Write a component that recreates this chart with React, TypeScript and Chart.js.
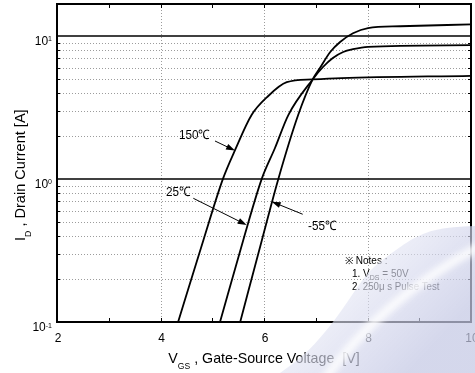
import { useEffect, useRef } from "react";
import { Chart, registerables } from "chart.js";

Chart.register(...registerables);

// Transfer characteristics: drain current vs gate-source voltage
const vgs150 = [4.34, 4.83, 5.21, 5.44, 5.76, 6.06, 6.44, 6.94, 7.5, 10.0];
const id150 = [0.1, 0.375, 1.01, 1.59, 2.8, 3.74, 4.75, 4.97, 5.08, 5.27];

const vgs25 = [5.15, 5.6, 5.96, 6.21, 6.47, 6.94, 7.14, 7.33, 7.53, 7.72, 8.01, 10.0];
const id25 = [0.1, 0.375, 1.01, 1.64, 2.8, 4.97, 6.07, 7.02, 7.73, 8.08, 8.39, 8.62];

const vgsM55 = [5.54, 5.96, 6.28, 6.66, 6.94, 7.08, 7.28, 7.47, 7.72, 8.01, 8.63, 10.0];
const idM55 = [0.1, 0.375, 1.01, 2.8, 4.97, 5.97, 7.73, 9.08, 10.45, 11.37, 11.7, 12.05];

// Axis ranges and ticks
const X_MIN = 2;
const X_MAX = 10;
const Y_MIN = 0.1;
const Y_MAX = 16.74;
const xTickLabels = [2, 4, 6, 8, 10];
const xGridValues = [4, 6, 8];
const xTickMarks = [3, 4, 5, 6, 7, 8, 9];
const yDecades = [0.1, 1, 10];
const yExponents = ["-1", "0", "1"];
const yMajorLines = [1, 10];
const yMinorMultipliers = [2, 3, 4, 5, 6, 7, 8, 9];

// Curve callouts, in data units (V, A)
const callouts = [
  { text: "150℃", label: [4.357, 1.89], from: [5.053, 1.844], to: [5.44, 1.58] },
  { text: "25℃", label: [4.106, 0.76], from: [4.634, 0.733], to: [5.666, 0.477] },
  { text: "-55℃", label: [6.85, 0.44], from: [6.748, 0.567], to: [6.149, 0.694] },
];

const FONT = '"Liberation Sans", Arial, Helvetica, sans-serif';

type Piece = { t: string; size: number; dy: number };

function runWidth(ctx: CanvasRenderingContext2D, pieces: Piece[], sx: number) {
  let w = 0;
  for (const p of pieces) {
    ctx.font = `${p.size}px ${FONT}`;
    w += ctx.measureText(p.t).width * sx;
  }
  return w;
}

function drawRun(ctx: CanvasRenderingContext2D, pieces: Piece[], x: number, y: number, sx: number) {
  ctx.save();
  ctx.translate(x, y);
  ctx.scale(sx, 1);
  ctx.textAlign = "left";
  ctx.textBaseline = "alphabetic";
  let cx = 0;
  for (const p of pieces) {
    ctx.font = `${p.size}px ${FONT}`;
    ctx.fillText(p.t, cx, p.dy);
    cx += ctx.measureText(p.t).width;
  }
  ctx.restore();
}

function toPoints(xs: number[], ys: number[]) {
  return xs.map((x, i) => ({ x, y: ys[i] }));
}

const framePlugin = {
  id: "frame",
  beforeDatasetsDraw(chart: any) {
    const { ctx, chartArea: a, scales } = chart;
    const xs = scales.x;
    const ys = scales.y;
    ctx.save();
    // dotted minor grid
    ctx.strokeStyle = "#9c9c9c";
    ctx.lineWidth = 1;
    ctx.setLineDash([1, 2]);
    for (const d of yDecades) {
      for (const m of yMinorMultipliers) {
        const v = d * m;
        if (v >= Y_MAX) continue;
        const py = Math.round(ys.getPixelForValue(v)) + 0.5;
        ctx.beginPath();
        ctx.moveTo(a.left, py);
        ctx.lineTo(a.right, py);
        ctx.stroke();
      }
    }
    for (const v of xGridValues) {
      const px = Math.round(xs.getPixelForValue(v)) + 0.5;
      ctx.beginPath();
      ctx.moveTo(px, a.top);
      ctx.lineTo(px, a.bottom);
      ctx.stroke();
    }
    ctx.setLineDash([]);
    // solid decade lines
    ctx.strokeStyle = "#000";
    ctx.lineWidth = 1.3;
    for (const v of yMajorLines) {
      const py = ys.getPixelForValue(v);
      ctx.beginPath();
      ctx.moveTo(a.left, py);
      ctx.lineTo(a.right, py);
      ctx.stroke();
    }
    ctx.restore();
  },
  afterDatasetsDraw(chart: any) {
    const { ctx, chartArea: a, scales } = chart;
    const xs = scales.x;
    const ys = scales.y;
    ctx.save();
    ctx.fillStyle = "#000";
    ctx.strokeStyle = "#000";

    // inward tick marks
    ctx.lineWidth = 1;
    for (const v of xTickMarks) {
      const px = Math.round(xs.getPixelForValue(v)) + 0.5;
      ctx.beginPath();
      ctx.moveTo(px, a.bottom);
      ctx.lineTo(px, a.bottom - 4);
      ctx.moveTo(px, a.top);
      ctx.lineTo(px, a.top + 4);
      ctx.stroke();
    }
    for (const d of yDecades) {
      for (const m of yMinorMultipliers) {
        const v = d * m;
        if (v >= Y_MAX) continue;
        const py = Math.round(ys.getPixelForValue(v)) + 0.5;
        ctx.beginPath();
        ctx.moveTo(a.left, py);
        ctx.lineTo(a.left + 3, py);
        ctx.moveTo(a.right, py);
        ctx.lineTo(a.right - 3, py);
        ctx.stroke();
      }
    }

    // plot frame
    ctx.lineWidth = 2;
    ctx.strokeRect(a.left, a.top, a.right - a.left, a.bottom - a.top);

    // x tick labels
    for (const v of xTickLabels) {
      const px = xs.getPixelForValue(v) + 1;
      const pieces = [{ t: String(v), size: 13, dy: 0 }];
      const w = runWidth(ctx, pieces, 0.92);
      drawRun(ctx, pieces, px - w / 2, a.bottom + 20, 0.92);
    }

    // y tick labels: 10 with superscript exponent
    yDecades.forEach((v, i) => {
      const py = ys.getPixelForValue(v);
      const pieces = [
        { t: "10", size: 12, dy: 0 },
        { t: yExponents[i], size: 7, dy: -3.5 },
      ];
      const w = runWidth(ctx, pieces, 1);
      drawRun(ctx, pieces, a.left - 5 - w, py + 9, 1);
    });

    // axis titles
    const xTitle: Piece[] = [
      { t: "V", size: 15, dy: 0 },
      { t: "GS", size: 9, dy: 5.5 },
      { t: " , Gate-Source Voltage  [V]", size: 15, dy: 0 },
    ];
    const xw = runWidth(ctx, xTitle, 0.95);
    drawRun(ctx, xTitle, (a.left + a.right) / 2 - xw / 2, 363, 0.95);

    const yTitle: Piece[] = [
      { t: "I", size: 15, dy: 0 },
      { t: "D", size: 9, dy: 6 },
      { t: " , Drain Current [A]", size: 15, dy: 0 },
    ];
    ctx.save();
    ctx.translate(25, 241);
    ctx.rotate(-Math.PI / 2);
    drawRun(ctx, yTitle, 0, 0, 0.97);
    ctx.restore();

    // curve callouts with arrows
    for (const c of callouts) {
      const lx = xs.getPixelForValue(c.label[0]);
      const ly = ys.getPixelForValue(c.label[1]);
      drawRun(ctx, [{ t: c.text, size: 13, dy: 0 }], lx, ly, 0.9);
      const fx = xs.getPixelForValue(c.from[0]);
      const fy = ys.getPixelForValue(c.from[1]);
      const tx = xs.getPixelForValue(c.to[0]);
      const ty = ys.getPixelForValue(c.to[1]);
      const ang = Math.atan2(ty - fy, tx - fx);
      const head = 9;
      const half = 3;
      ctx.lineWidth = 1;
      ctx.beginPath();
      ctx.moveTo(fx, fy);
      ctx.lineTo(tx - Math.cos(ang) * head * 0.8, ty - Math.sin(ang) * head * 0.8);
      ctx.stroke();
      ctx.beginPath();
      ctx.moveTo(tx, ty);
      ctx.lineTo(
        tx - Math.cos(ang) * head - Math.sin(ang) * half,
        ty - Math.sin(ang) * head + Math.cos(ang) * half
      );
      ctx.lineTo(
        tx - Math.cos(ang) * head + Math.sin(ang) * half,
        ty - Math.sin(ang) * head - Math.cos(ang) * half
      );
      ctx.closePath();
      ctx.fill();
    }

    // test conditions
    drawRun(ctx, [{ t: "※ Notes :", size: 10, dy: 0 }], 345, 264, 1);
    drawRun(
      ctx,
      [
        { t: "1. V", size: 10, dy: 0 },
        { t: "DS", size: 7, dy: 3 },
        { t: " = 50V", size: 10, dy: 0 },
      ],
      352,
      277,
      1
    );
    drawRun(ctx, [{ t: "2. 250μ s Pulse Test", size: 10, dy: 0 }], 352, 290, 0.97);
    ctx.restore();
  },
  afterDraw(chart: any) {
    // translucent corner swoosh
    const { ctx, width: W, height: H } = chart;
    const edge = [
      [280, H], [303, 357], [327, 330], [342, 310], [360, 283], [373, 267],
      [393, 252], [413, 238], [433, 230], [453, 227], [W, 226],
    ];
    ctx.save();
    ctx.beginPath();
    ctx.moveTo(edge[0][0], edge[0][1]);
    for (let i = 1; i < edge.length - 1; i++) {
      const mx = (edge[i][0] + edge[i + 1][0]) / 2;
      const my = (edge[i][1] + edge[i + 1][1]) / 2;
      ctx.quadraticCurveTo(edge[i][0], edge[i][1], mx, my);
    }
    ctx.lineTo(edge[edge.length - 1][0], edge[edge.length - 1][1]);
    ctx.lineTo(W, H);
    ctx.closePath();
    const g = ctx.createLinearGradient(345, 290, 420, 360);
    g.addColorStop(0, "rgba(228,230,244,0.6)");
    g.addColorStop(0.5, "rgba(210,213,236,0.66)");
    g.addColorStop(1, "rgba(196,200,228,0.72)");
    ctx.fillStyle = g;
    ctx.fill();
    ctx.clip();
    // soft light streak across the swoosh
    ctx.filter = "blur(3px)";
    ctx.strokeStyle = "rgba(255,255,255,0.85)";
    ctx.lineWidth = 9;
    ctx.beginPath();
    ctx.moveTo(322, H + 10);
    ctx.quadraticCurveTo(380, 300, W + 5, 246);
    ctx.stroke();
    ctx.filter = "none";
    ctx.restore();
  },
};

export default function App() {
  const ref = useRef<HTMLCanvasElement | null>(null);

  useEffect(() => {
    if (!ref.current) return;
    const line = (pts: { x: number; y: number }[]) => ({
      data: pts,
      borderColor: "#000",
      borderWidth: 1.8,
      pointRadius: 0,
      fill: false,
      cubicInterpolationMode: "monotone" as const,
    });
    const chart = new Chart(ref.current, {
      type: "line",
      data: {
        datasets: [
          { label: "150℃", ...line(toPoints(vgs150, id150)) },
          { label: "25℃", ...line(toPoints(vgs25, id25)) },
          { label: "-55℃", ...line(toPoints(vgsM55, idM55)) },
        ],
      },
      options: {
        responsive: false,
        animation: false,
        devicePixelRatio: 1,
        parsing: false,
        layout: { padding: { left: 57, right: 4, top: 4, bottom: 51 } },
        plugins: { legend: { display: false }, tooltip: { enabled: false } },
        events: [],
        scales: {
          x: { type: "linear", min: X_MIN, max: X_MAX, display: false },
          y: { type: "logarithmic", min: Y_MIN, max: Y_MAX, display: false },
        },
      },
      plugins: [framePlugin],
    });
    return () => chart.destroy();
  }, []);

  return (
    <div style={{ position: "absolute", left: 0, top: 0, width: 475, height: 373, background: "#fff" }}>
      <canvas ref={ref} width={475} height={373} />
    </div>
  );
}
